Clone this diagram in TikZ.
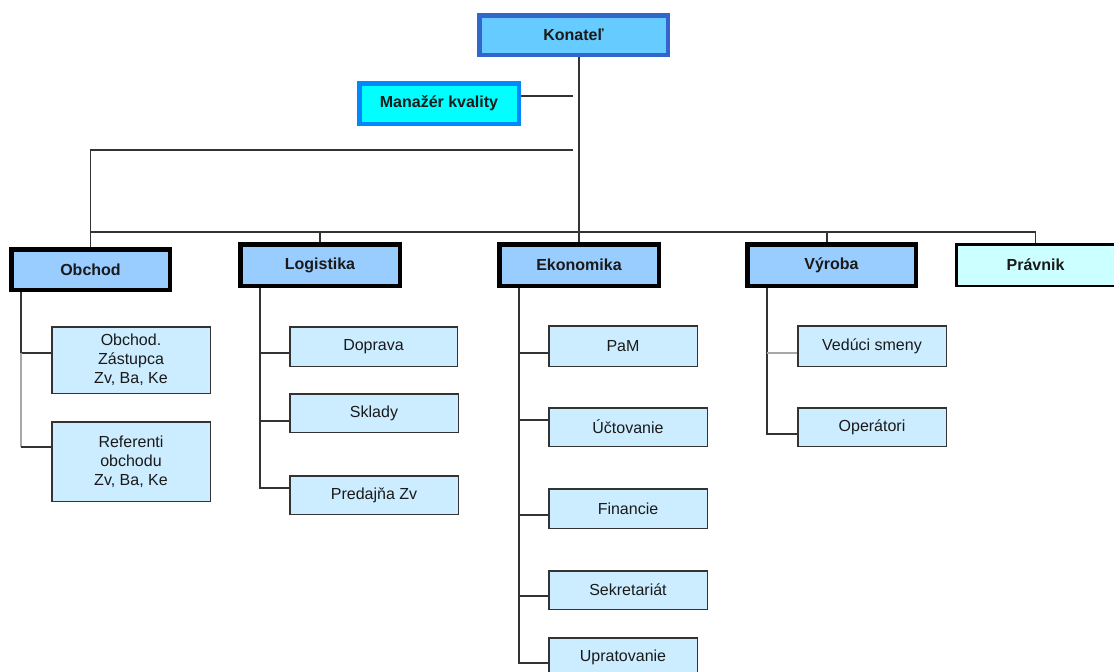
\documentclass[tikz,border=0pt]{standalone}
\usepackage{fontspec}
\setmainfont{Liberation Sans}
\definecolor{kfill}{HTML}{66CCFF}
\definecolor{kdraw}{HTML}{3366CC}
\definecolor{mfill}{HTML}{00FFFF}
\definecolor{mdraw}{HTML}{0088FF}
\definecolor{dfill}{HTML}{99CCFF}
\definecolor{pfill}{HTML}{CCFFFF}
\definecolor{cfill}{HTML}{CCECFF}
\definecolor{cdraw}{HTML}{333333}
\definecolor{lnclr}{HTML}{333333}
\definecolor{lnlight}{HTML}{A8A8A8}
\definecolor{txt}{HTML}{1A1A1A}
\begin{document}
\begin{tikzpicture}[x=1pt,y=-1pt,
  every node/.style={font=\fontsize{16}{19}\selectfont, inner sep=0pt, text=txt, align=center},
  konbox/.style={draw=kdraw, line width=4.5pt, fill=kfill, font=\fontsize{16}{19}\selectfont\bfseries},
  mgrbox/.style={draw=mdraw, line width=4.5pt, fill=mfill, font=\fontsize{16}{19}\selectfont\bfseries},
  deptbox/.style={draw=black, line width=4.5pt, fill=dfill, font=\fontsize{16}{19}\selectfont\bfseries},
  pravbox/.style={draw=black, line width=2.5pt, fill=pfill, font=\fontsize{16}{19}\selectfont\bfseries},
  childbox/.style={draw=cdraw, line width=1.5pt, fill=cfill},
  conn/.style={draw=lnclr, line width=1.3pt},
  connlight/.style={draw=lnlight, line width=1.5pt}]
\useasboundingbox (0,0) rectangle (1114,672);
\fill[white] (0,0) rectangle (1114,672);

% top level
\node[konbox, minimum width=188.5pt, minimum height=39.5pt] (kon) at (573.5,35) {Konateľ};
\node[mgrbox, minimum width=159.5pt, minimum height=40.5pt] (mgr) at (439,103.5) {Manažér kvality};

% departments
\node[deptbox, minimum width=158.5pt, minimum height=40.5pt] (obchod) at (90.5,269.5) {Obchod};
\node[deptbox, minimum width=159.5pt, minimum height=41.5pt] (logi) at (320,265) {Logistika};
\node[deptbox, minimum width=159.5pt, minimum height=41.5pt] (ekon) at (579,265) {Ekonomika};
\node[deptbox, minimum width=168.5pt, minimum height=41.5pt] (vyr) at (831.5,265) {Výroba};
\node[pravbox, minimum width=158.5pt, minimum height=41.5pt] (prav) at (1035.5,265) {Právnik};

% children
\node[childbox, minimum width=158.5pt, minimum height=66.5pt] (oz) at (131,360) {Obchod.\\Zástupca\\Zv, Ba, Ke};
\node[childbox, minimum width=158.5pt, minimum height=79.5pt] (ref) at (131,461.5) {Referenti\\obchodu\\Zv, Ba, Ke};
\node[childbox, minimum width=167.5pt, minimum height=39.5pt] (dop) at (373.5,346.5) {Doprava};
\node[childbox, minimum width=168.5pt, minimum height=38.5pt] (skl) at (374,413) {Sklady};
\node[childbox, minimum width=168.5pt, minimum height=38.5pt] (pre) at (374,495) {Predajňa Zv};
\node[childbox, minimum width=148.5pt, minimum height=40.5pt] (pam) at (623,346) {PaM};
\node[childbox, minimum width=158.5pt, minimum height=38.5pt] (uct) at (628,427) {Účtovanie};
\node[childbox, minimum width=158.5pt, minimum height=39.5pt] (fin) at (628,508.5) {Financie};
\node[childbox, minimum width=158.5pt, minimum height=38.5pt] (sek) at (628,590) {Sekretariát};
\node[childbox, minimum width=148.5pt, minimum height=39.5pt] (upr) at (623,657.5) {Upratovanie};
\node[childbox, minimum width=148.5pt, minimum height=40.5pt] (ved) at (872,346) {Vedúci smeny};
\node[childbox, minimum width=148.5pt, minimum height=38.5pt] (ope) at (872,427) {Operátori};

% top connectors
\coordinate (mj) at (573,96);
\coordinate (lj) at (573,150);
\coordinate (bus) at (0,232);
\draw[conn] (kon.south -| ekon.north) -- (ekon.north);
\draw[conn] (mgr.east |- mj) -- (mj);
\draw[conn] (lj) -| (obchod.north);
\draw[conn] (obchod.north |- bus) -- (prav.north |- bus);
\draw[conn] (logi.north |- bus) -- (logi.north);
\draw[conn] ([xshift=-4.5pt]vyr.north |- bus) -- ([xshift=-4.5pt]vyr.north);
\draw[conn] (prav.north |- bus) -- (prav.north);

% Obchod branch
\coordinate (o1) at (21,353);
\coordinate (o2) at (21,447);
\draw[conn] (obchod.south -| o1) -- (o1) -- (oz.west |- o1);
\draw[connlight] (o1) -- (o2);
\draw[conn] (o2) -- (ref.west |- o2);

% Logistika branch
\coordinate (l1) at (260,353);
\coordinate (l2) at (260,421);
\coordinate (l3) at (260,488);
\draw[conn] (logi.south -| l1) -- (l3) -- (pre.west |- l3);
\draw[conn] (l1) -- (dop.west |- l1);
\draw[conn] (l2) -- (skl.west |- l2);

% Ekonomika branch
\coordinate (e1) at (519,353);
\coordinate (e2) at (519,420);
\coordinate (e3) at (519,515);
\coordinate (e4) at (519,596);
\coordinate (e5) at (519,663);
\draw[conn] (ekon.south -| e1) -- (e5) -- (upr.west |- e5);
\draw[conn] (e1) -- (pam.west |- e1);
\draw[conn] (e2) -- (uct.west |- e2);
\draw[conn] (e3) -- (fin.west |- e3);
\draw[conn] (e4) -- (sek.west |- e4);

% Vyroba branch
\coordinate (v1) at (767,353);
\coordinate (v2) at (767,434);
\draw[conn] (vyr.south -| v1) -- (v2) -- (ope.west |- v2);
\draw[connlight] (v1) -- (ved.west |- v1);
\end{tikzpicture}
\end{document}
